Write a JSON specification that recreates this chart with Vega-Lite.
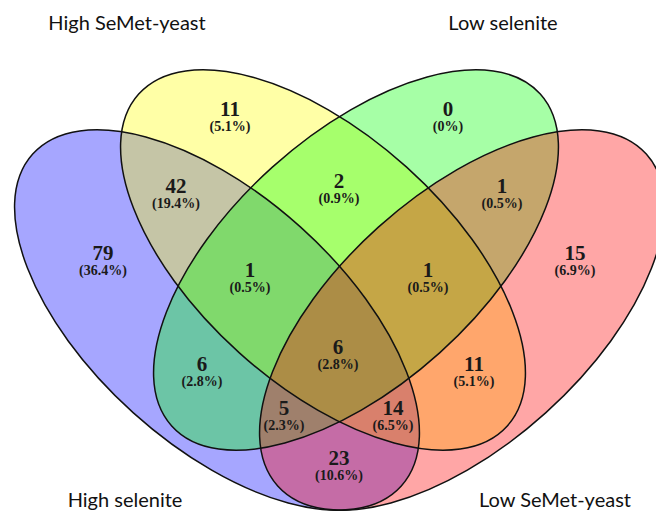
{
  "$schema": "https://vega.github.io/schema/vega-lite/v6.json",
  "width": 656,
  "height": 511,
  "autosize": {"type": "none"},
  "padding": 0,
  "background": "white",
  "config": {"view": {"stroke": null}},
  "datasets": {
    "sets": [
      {"set": "High selenite", "cx": 217, "cy": 320},
      {"set": "High SeMet-yeast", "cx": 323, "cy": 260},
      {"set": "Low selenite", "cx": 356, "cy": 260},
      {"set": "Low SeMet-yeast", "cx": 462, "cy": 320}
    ],
    "regions": [
      {"count": "11", "pct": "(5.1%)", "x": 230, "y": 110},
      {"count": "0", "pct": "(0%)", "x": 448, "y": 110},
      {"count": "42", "pct": "(19.4%)", "x": 176, "y": 187},
      {"count": "2", "pct": "(0.9%)", "x": 339, "y": 182},
      {"count": "1", "pct": "(0.5%)", "x": 502, "y": 187},
      {"count": "79", "pct": "(36.4%)", "x": 103, "y": 254},
      {"count": "15", "pct": "(6.9%)", "x": 575, "y": 254},
      {"count": "1", "pct": "(0.5%)", "x": 250, "y": 271},
      {"count": "1", "pct": "(0.5%)", "x": 428, "y": 271},
      {"count": "6", "pct": "(2.8%)", "x": 338, "y": 348},
      {"count": "6", "pct": "(2.8%)", "x": 202, "y": 365},
      {"count": "11", "pct": "(5.1%)", "x": 474, "y": 365},
      {"count": "5", "pct": "(2.3%)", "x": 284, "y": 409},
      {"count": "14", "pct": "(6.5%)", "x": 393, "y": 409},
      {"count": "23", "pct": "(10.6%)", "x": 339, "y": 459}
    ],
    "labels": [
      {"label": "High SeMet-yeast", "x": 127, "y": 24},
      {"label": "Low selenite", "x": 503, "y": 24},
      {"label": "High selenite", "x": 125, "y": 501},
      {"label": "Low SeMet-yeast", "x": 555, "y": 501}
    ]
  },
  "encoding": {
    "x": {"field": "cx", "type": "quantitative", "scale": {"domain": [0, 656], "nice": false, "zero": false}, "axis": null},
    "y": {"field": "cy", "type": "quantitative", "scale": {"domain": [0, 511], "reverse": true, "nice": false, "zero": false}, "axis": null}
  },
  "layer": [
    {
      "data": {"name": "sets"},
      "transform": [{"filter": "datum.set === 'High selenite' || datum.set === 'High SeMet-yeast'"}],
      "mark": {"type": "point", "filled": true, "opacity": 0.35, "strokeWidth": 0, "size": 246016, "angle": 42,
        "shape": "M -1 0 A 1 0.504 0 1 1 1 0 A 1 0.504 0 1 1 -1 0 Z"},
      "encoding": {
        "color": {"field": "set", "type": "nominal", "scale": {"domain": ["High selenite", "High SeMet-yeast", "Low selenite", "Low SeMet-yeast"], "range": ["#0000ff", "#ffff00", "#00ff00", "#ff0000"]}, "legend": null}
      }
    },
    {
      "data": {"name": "sets"},
      "transform": [{"filter": "datum.set === 'Low selenite' || datum.set === 'Low SeMet-yeast'"}],
      "mark": {"type": "point", "filled": true, "opacity": 0.35, "strokeWidth": 0, "size": 246016, "angle": 318,
        "shape": "M -1 0 A 1 0.504 0 1 1 1 0 A 1 0.504 0 1 1 -1 0 Z"},
      "encoding": {
        "color": {"field": "set", "type": "nominal", "legend": null}
      }
    },
    {
      "data": {"name": "sets"},
      "transform": [{"filter": "datum.set === 'High selenite' || datum.set === 'High SeMet-yeast'"}],
      "mark": {"type": "point", "filled": false, "opacity": 1, "color": "#111111", "strokeWidth": 1.5, "size": 246016, "angle": 42,
        "shape": "M -1 0 A 1 0.504 0 1 1 1 0 A 1 0.504 0 1 1 -1 0 Z"}
    },
    {
      "data": {"name": "sets"},
      "transform": [{"filter": "datum.set === 'Low selenite' || datum.set === 'Low SeMet-yeast'"}],
      "mark": {"type": "point", "filled": false, "opacity": 1, "color": "#111111", "strokeWidth": 1.5, "size": 246016, "angle": 318,
        "shape": "M -1 0 A 1 0.504 0 1 1 1 0 A 1 0.504 0 1 1 -1 0 Z"}
    },
    {
      "data": {"name": "regions"},
      "mark": {"type": "text", "font": "Liberation Serif", "fontWeight": "bold", "fontSize": 21, "align": "center", "baseline": "middle", "color": "#1a1a1a"},
      "encoding": {
        "x": {"field": "x", "type": "quantitative"},
        "y": {"field": "y", "type": "quantitative"},
        "text": {"field": "count", "type": "nominal"}
      }
    },
    {
      "data": {"name": "regions"},
      "mark": {"type": "text", "font": "Liberation Serif", "fontWeight": "bold", "fontSize": 14, "align": "center", "baseline": "middle", "dy": 17, "color": "#1a1a1a"},
      "encoding": {
        "x": {"field": "x", "type": "quantitative"},
        "y": {"field": "y", "type": "quantitative"},
        "text": {"field": "pct", "type": "nominal"}
      }
    },
    {
      "data": {"name": "labels"},
      "mark": {"type": "text", "font": "Lato", "fontSize": 20, "align": "center", "baseline": "middle", "color": "#111111"},
      "encoding": {
        "x": {"field": "x", "type": "quantitative"},
        "y": {"field": "y", "type": "quantitative"},
        "text": {"field": "label", "type": "nominal"}
      }
    }
  ]
}
